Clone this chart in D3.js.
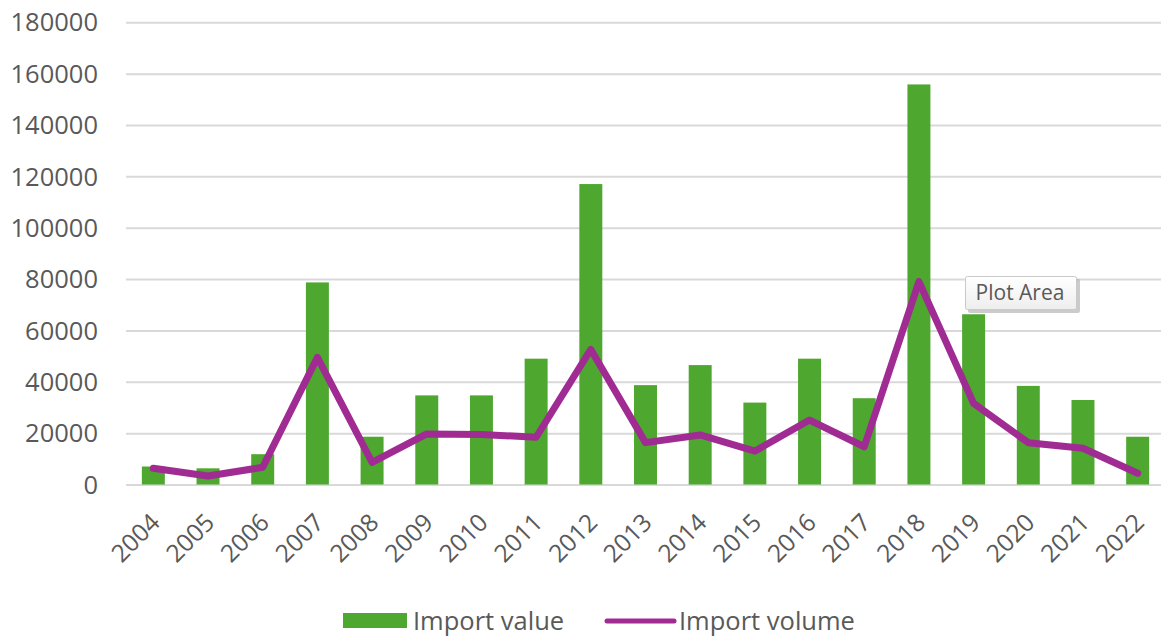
<!DOCTYPE html>
<html>
<head>
<meta charset="utf-8">
<script src="https://cdn.jsdelivr.net/npm/d3@7"></script>
<style>
  html, body { margin: 0; padding: 0; background: #ffffff; }
  svg { display: block; font-family: "Open Sans", "Noto Sans", sans-serif; }
</style>
</head>
<body>
<svg id="chart" width="1161" height="637"></svg>
<script>
// Yearly import figures
const years = ["2004","2005","2006","2007","2008","2009","2010","2011","2012","2013",
               "2014","2015","2016","2017","2018","2019","2020","2021","2022"];
const importValue = [7000, 6300, 11800, 78700, 18600, 34700, 34700, 49000, 117000, 38700,
                     46500, 31900, 49000, 33600, 155800, 66300, 38400, 32900, 18600];
const importVolume = [6300, 3300, 6700, 49500, 8600, 19700, 19500, 18400, 52600, 16300,
                      19300, 13000, 25100, 14700, 79000, 31600, 16300, 14100, 4400];
const yTicks = [0, 20000, 40000, 60000, 80000, 100000, 120000, 140000, 160000, 180000];
const seriesNames = ["Import value", "Import volume"];

const GREEN = "#4EA72E";
const PURPLE = "#A02B93";
const TEXT = "#595959";
const GRID = "#d9d9d9";

const svg = d3.select("#chart");

const x = d3.scaleBand()
  .domain(years)
  .range([126, 1165])
  .paddingInner(0.58)
  .paddingOuter(0.29);

const y = d3.scaleLinear()
  .domain([0, 180000])
  .range([484.5, 22.3]);

// Horizontal gridlines and value labels
const yAxis = d3.axisLeft(y)
  .tickValues(yTicks)
  .tickSize(-(1161 - 126))
  .tickPadding(28)
  .tickFormat(d3.format("d"));

const gAxis = svg.append("g")
  .attr("transform", "translate(126,0)")
  .call(yAxis);
gAxis.select(".domain").remove();
gAxis.selectAll(".tick line")
  .attr("stroke", GRID)
  .attr("stroke-width", 2);
gAxis.selectAll(".tick text")
  .attr("fill", TEXT)
  .attr("font-size", "25.5px")
  .attr("font-family", "'Open Sans', sans-serif")
  .attr("dy", "0.34em");

// Bars
svg.append("g")
  .selectAll("rect")
  .data(years)
  .join("rect")
  .attr("x", (d) => x(d))
  .attr("width", x.bandwidth())
  .attr("y", (d, i) => y(importValue[i]))
  .attr("height", (d, i) => y(0) - y(importValue[i]))
  .attr("fill", GREEN);

// Volume line
const line = d3.line()
  .x((d, i) => x(years[i]) + x.bandwidth() / 2)
  .y((d) => y(d));

svg.append("path")
  .datum(importVolume)
  .attr("d", line)
  .attr("fill", "none")
  .attr("stroke", PURPLE)
  .attr("stroke-width", 7)
  .attr("stroke-linejoin", "round")
  .attr("stroke-linecap", "round");

// Year labels, rotated
svg.append("g")
  .selectAll("text")
  .data(years)
  .join("text")
  .attr("transform", (d) => `translate(${x(d) + x.bandwidth() / 2 + 8},524) rotate(-45)`)
  .attr("text-anchor", "end")
  .attr("fill", TEXT)
  .attr("font-size", "24.5px")
  .text((d) => d);

// Legend
const legend = svg.append("g");
legend.append("rect")
  .attr("x", 343).attr("y", 613)
  .attr("width", 64).attr("height", 15)
  .attr("fill", GREEN);
legend.append("text")
  .attr("x", 413).attr("y", 630)
  .attr("fill", TEXT)
  .attr("font-size", "25.5px")
  .text(seriesNames[0]);
legend.append("line")
  .attr("x1", 607).attr("x2", 674)
  .attr("y1", 621).attr("y2", 621)
  .attr("stroke", PURPLE)
  .attr("stroke-width", 5)
  .attr("stroke-linecap", "round");
legend.append("text")
  .attr("x", 679).attr("y", 630)
  .attr("fill", TEXT)
  .attr("font-size", "25.5px")
  .text(seriesNames[1]);

// Hover label box
const defs = svg.append("defs");
const grad = defs.append("linearGradient")
  .attr("id", "tipFill").attr("x1", 0).attr("y1", 0).attr("x2", 0).attr("y2", 1);
grad.append("stop").attr("offset", "0%").attr("stop-color", "#ffffff");
grad.append("stop").attr("offset", "100%").attr("stop-color", "#eeeeee");

const tip = svg.append("g");
tip.append("rect")
  .attr("x", 968).attr("y", 279)
  .attr("width", 112).attr("height", 34)
  .attr("fill", "#a8a8a8")
  .attr("opacity", 0.6)
  .attr("rx", 2);
tip.append("rect")
  .attr("x", 965.5).attr("y", 276.5)
  .attr("width", 111).attr("height", 33)
  .attr("fill", "url(#tipFill)")
  .attr("stroke", "#c9c9c9")
  .attr("stroke-width", 1)
  .attr("rx", 2);
tip.append("text")
  .attr("x", 1020).attr("y", 300)
  .attr("text-anchor", "middle")
  .attr("fill", TEXT)
  .attr("font-size", "21px")
  .text("Plot Area");
</script>
</body>
</html>
